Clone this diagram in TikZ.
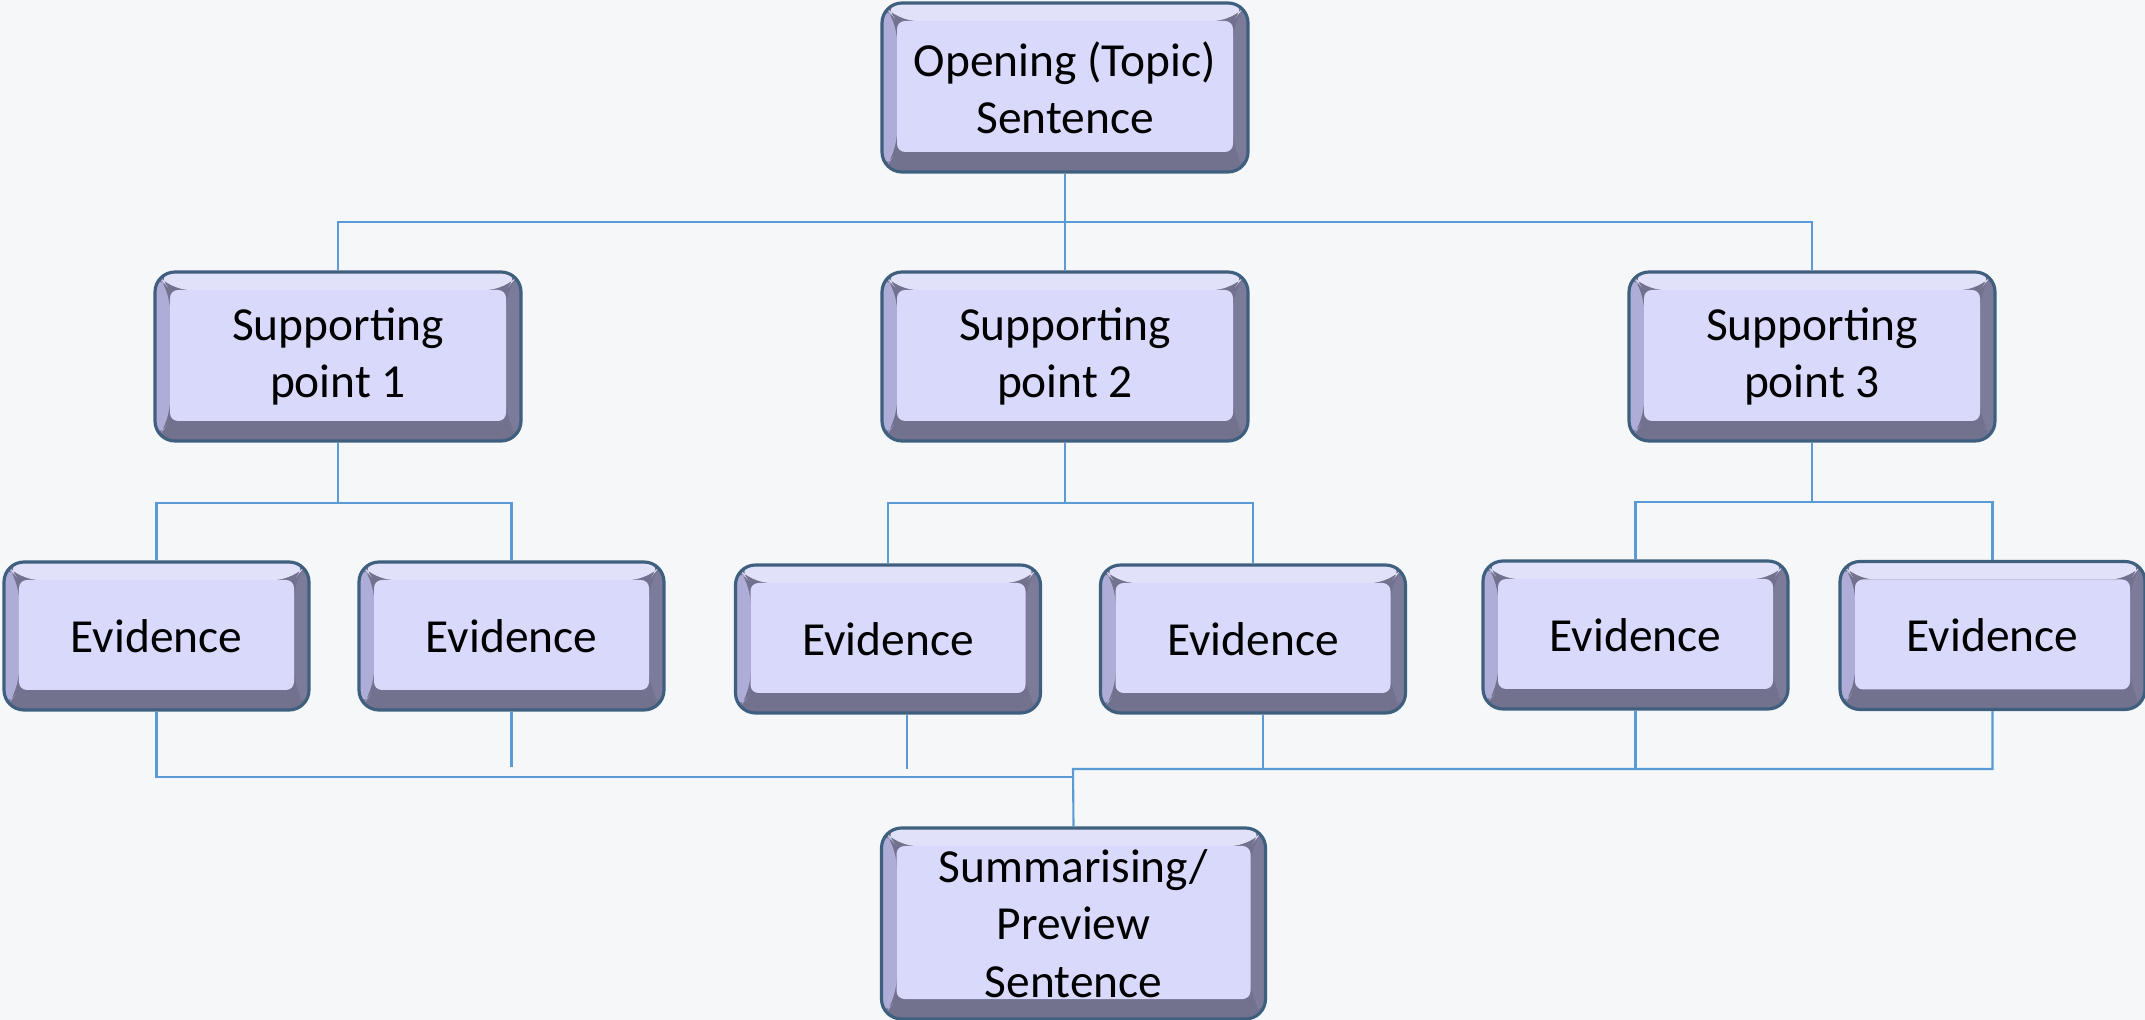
\documentclass[tikz,border=0pt]{standalone}
\usepackage{fontspec}
\setmainfont{Carlito}
\definecolor{backdrop}{HTML}{F5F7F9}
\definecolor{linkblue}{HTML}{5B9BD5}
\definecolor{boxline}{HTML}{3F5F7E}
\definecolor{face}{HTML}{D9D9FC}
\definecolor{bevtop}{HTML}{E1E1FA}
\definecolor{bevleft}{HTML}{ADADD7}
\definecolor{bevright}{HTML}{7C7C9A}
\definecolor{bevdark}{HTML}{72728E}

\begin{document}
\begin{tikzpicture}
	[link/.style={draw=linkblue, line width=0.6pt},
	box/.style={rectangle, rounded corners=0.2cm, draw=boxline, line width=0.9pt,
		fill=bevdark, align=center, inner sep=0pt,
		font=\fontsize{13.5}{16.3}\selectfont,
		path picture={
			\coordinate (bnw) at (path picture bounding box.north west);
			\coordinate (bne) at (path picture bounding box.north east);
			\coordinate (bsw) at (path picture bounding box.south west);
			\coordinate (bse) at (path picture bounding box.south east);
			\coordinate (inw) at ([shift={(0.15cm,-0.18cm)}]bnw);
			\coordinate (ine) at ([shift={(-0.15cm,-0.18cm)}]bne);
			\coordinate (isw) at ([shift={(0.15cm,0.2cm)}]bsw);
			\coordinate (ise) at ([shift={(-0.15cm,0.2cm)}]bse);
			\fill[bevtop] (bnw) -- (bne) -- (ine) -- (inw) -- cycle;
			\fill[bevleft] (bnw) -- (inw) -- (isw) -- (bsw) -- cycle;
			\fill[bevright] (bne) -- (ine) -- (ise) -- (bse) -- cycle;
			\fill[face, rounded corners=0.08cm] (inw) rectangle (ise);
		}},
	topic/.style={box, minimum width=3.66cm, minimum height=1.69cm},
	evid/.style={box, minimum width=3.05cm, minimum height=1.48cm},
	closing/.style={box, minimum width=3.84cm, minimum height=1.91cm}]
	\fill[backdrop] (0,0) rectangle (21.45,-10.2);
	\useasboundingbox (0,0) rectangle (21.45,-10.2);
	% boxes
	\node at (10.65,-0.875) [topic] (opening) {Opening (Topic)\\Sentence};
	\node at (3.38,-3.565) [topic] (point1) {Supporting\\point 1};
	\node at (10.65,-3.565) [topic] (point2) {Supporting\\point 2};
	\node at (18.12,-3.565) [topic] (point3) {Supporting\\point 3};
	\node at (1.565,-6.36) [evid] (ev11) {Evidence};
	\node at (5.115,-6.36) [evid] (ev12) {Evidence};
	\node at (8.88,-6.39) [evid] (ev21) {Evidence};
	\node at (12.53,-6.39) [evid] (ev22) {Evidence};
	\node at (16.355,-6.35) [evid] (ev31) {Evidence};
	\node at (19.925,-6.355) [evid] (ev32) {Evidence};
	\node at (10.735,-9.235) [closing] (summary) {Summarising/\\Preview\\Sentence};
	% junctions
	\coordinate (tj) at (10.65,-2.22);
	\coordinate (j1) at (3.38,-5.03);
	\coordinate (j2) at (10.65,-5.03);
	\coordinate (j3) at (18.12,-5.02);
	\coordinate (lowL) at (10.73,-7.77);
	\coordinate (lowR) at (10.73,-7.69);
	\coordinate (e12end) at (5.115,-7.67);
	\coordinate (e21end) at (9.07,-7.69);
	\coordinate (e22end) at (12.63,-7.69);
	% connectors
	\draw[link] (opening) -- (point2);
	\draw[link] (point1.north) |- (tj) -| (point3.north);
	\draw[link] (point1) -- (j1);
	\draw[link] (ev11.north) |- (j1) -| (ev12.north);
	\draw[link] (point2) -- (j2);
	\draw[link] (ev21.north) |- (j2) -| (ev22.north);
	\draw[link] (point3) -- (j3);
	\draw[link] (ev31.north) |- (j3) -| (ev32.north);
	\draw[link] (ev11.south) |- (lowL);
	\draw[link] (ev12.south) -- (e12end);
	\draw[link] (e21end) -- (e21end |- ev21.south);
	\draw[link] (e22end) -- (e22end |- ev22.south);
	\draw[link] (ev31.south) -- (ev31.south |- lowR);
	\draw[link] (summary.north) -- (lowR) -| (ev32.south);
\end{tikzpicture}
\end{document}
